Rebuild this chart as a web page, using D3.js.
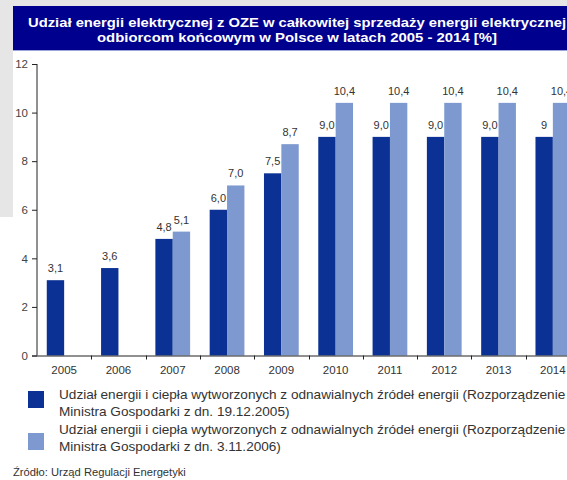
<!DOCTYPE html>
<html><head><meta charset="utf-8">
<script src="https://cdn.jsdelivr.net/npm/d3@7"></script>
<style>body{margin:0;background:#fff;}svg{display:block;font-family:"Liberation Sans",Arial,sans-serif;}</style>
</head><body>
<svg id="c" width="567" height="480"></svg>
<script>
const years = ["2005","2006","2007","2008","2009","2010","2011","2012","2013","2014"];
const series1 = [3.1,3.6,4.8,6.0,7.5,9.0,9.0,9.0,9.0,9.0];
const series2 = [null,null,5.1,7.0,8.7,10.4,10.4,10.4,10.4,10.4];
const labels1 = ["3,1","3,6","4,8","6,0","7,5","9,0","9,0","9,0","9,0","9"];
const labels2 = ["","","5,1","7,0","8,7","10,4","10,4","10,4","10,4","10,4"];
const yTicks = [0,2,4,6,8,10,12];
const seriesNames = [
  ["Udział energii i ciepła wytworzonych z odnawialnych źródeł energii (Rozporządzenie","Ministra Gospodarki z dn. 19.12.2005)"],
  ["Udział energii i ciepła wytworzonych z odnawialnych źródeł energii (Rozporządzenie","Ministra Gospodarki z dn. 3.11.2006)"]
];
const colors = ["#0a3193","#7e99cf"];
const title = ["Udział energii elektrycznej z OZE w całkowitej sprzedaży energii elektrycznej","odbiorcom końcowym w Polsce w latach 2005 - 2014 [%]"];
const source = "Źródło: Urząd Regulacji Energetyki";

const svg = d3.select("#c");
// background strips
svg.append("rect").attr("x",0).attr("y",0).attr("width",567).attr("height",6).attr("fill","#e6e6e6");
svg.append("rect").attr("x",0).attr("y",0).attr("width",13).attr("height",217).attr("fill","#e6e6e6");
// banner
svg.append("rect").attr("x",13).attr("y",6).attr("width",580).attr("height",44).attr("fill","#00008f");
svg.append("line").attr("x1",13).attr("x2",567).attr("y1",50.5).attr("y2",50.5).attr("stroke","#9aa6d8").attr("stroke-width",1);
const tl = [538, 400];
svg.selectAll("text.title").data(title).enter().append("text")
  .attr("x",297).attr("y",(d,i)=>27+i*15).attr("text-anchor","middle")
  .attr("textLength",(d,i)=>tl[i]).attr("lengthAdjust","spacingAndGlyphs")
  .attr("fill","#fff").attr("font-weight","bold").attr("font-size",13.5).text(d=>d);

const x0 = d3.scaleBand().domain(years).range([37,580]).paddingInner(0.36).paddingOuter(0.18);
const x1 = d3.scaleBand().domain([0,1]).range([0,x0.bandwidth()]);
const y = d3.scaleLinear().domain([0,12]).range([355.5,64]);

// bars
const rows = years.map((yr,i)=>({yr, vals:[series1[i],series2[i]], labs:[labels1[i],labels2[i]]}));
const g = svg.append("g");
rows.forEach(r=>{
  r.vals.forEach((v,k)=>{
    if(v==null) return;
    g.append("rect").attr("x",x0(r.yr)+x1(k)).attr("y",y(v)).attr("width",x1.bandwidth()).attr("height",y(0)-y(v)).attr("fill",colors[k]);
    g.append("text").attr("x",x0(r.yr)+x1(k)+x1.bandwidth()/2).attr("y",y(v)-8)
      .attr("text-anchor","middle").attr("font-size",11).attr("fill","#333").text(r.labs[k]);
  });
});

// y axis
const yAxis = d3.axisLeft(y).tickValues(yTicks).tickSize(5).tickPadding(4).tickFormat(d3.format("d"));
const ya = svg.append("g").attr("transform","translate(37,0)").call(yAxis);
ya.select(".domain").attr("stroke","#222").attr("d","M0,"+y(12)+"V"+y(0));
ya.selectAll(".tick line").attr("stroke","#222");
ya.selectAll(".tick text").attr("font-size",11.5).attr("fill","#444").attr("font-family","Liberation Sans, Arial, sans-serif");

// x axis
const xa = svg.append("g").attr("transform","translate(0,"+y(0)+")");
xa.append("line").attr("x1",32).attr("x2",567).attr("y1",0.5).attr("y2",0.5).attr("stroke","#222");
years.forEach((yr,i)=>{
  const bx = x0(yr) - x0.step()*x0.paddingInner()/2 ;
  if(i>0) xa.append("line").attr("x1",Math.round(bx)+0.5).attr("x2",Math.round(bx)+0.5).attr("y1",0).attr("y2",4).attr("stroke","#222");
  xa.append("text").attr("x",x0(yr)+x0.bandwidth()/2).attr("y",18).attr("text-anchor","middle")
    .attr("font-size",11.5).attr("fill","#333").text(yr);
});

// legend
const leg = svg.append("g");
const legTop = [391, 433];
const legText = [[399,416],[434,451]];
seriesNames.forEach((lines,k)=>{
  leg.append("rect").attr("x",28).attr("y",legTop[k]).attr("width",16).attr("height",17).attr("fill",colors[k]);
  lines.forEach((t,j)=>{
    leg.append("text").attr("x",59).attr("y",legText[k][j]).attr("font-size",13.6).attr("fill","#333").text(t);
  });
});
svg.append("text").attr("x",13).attr("y",476).attr("font-size",11.2).attr("fill","#333").text(source);
</script>
</body></html>
